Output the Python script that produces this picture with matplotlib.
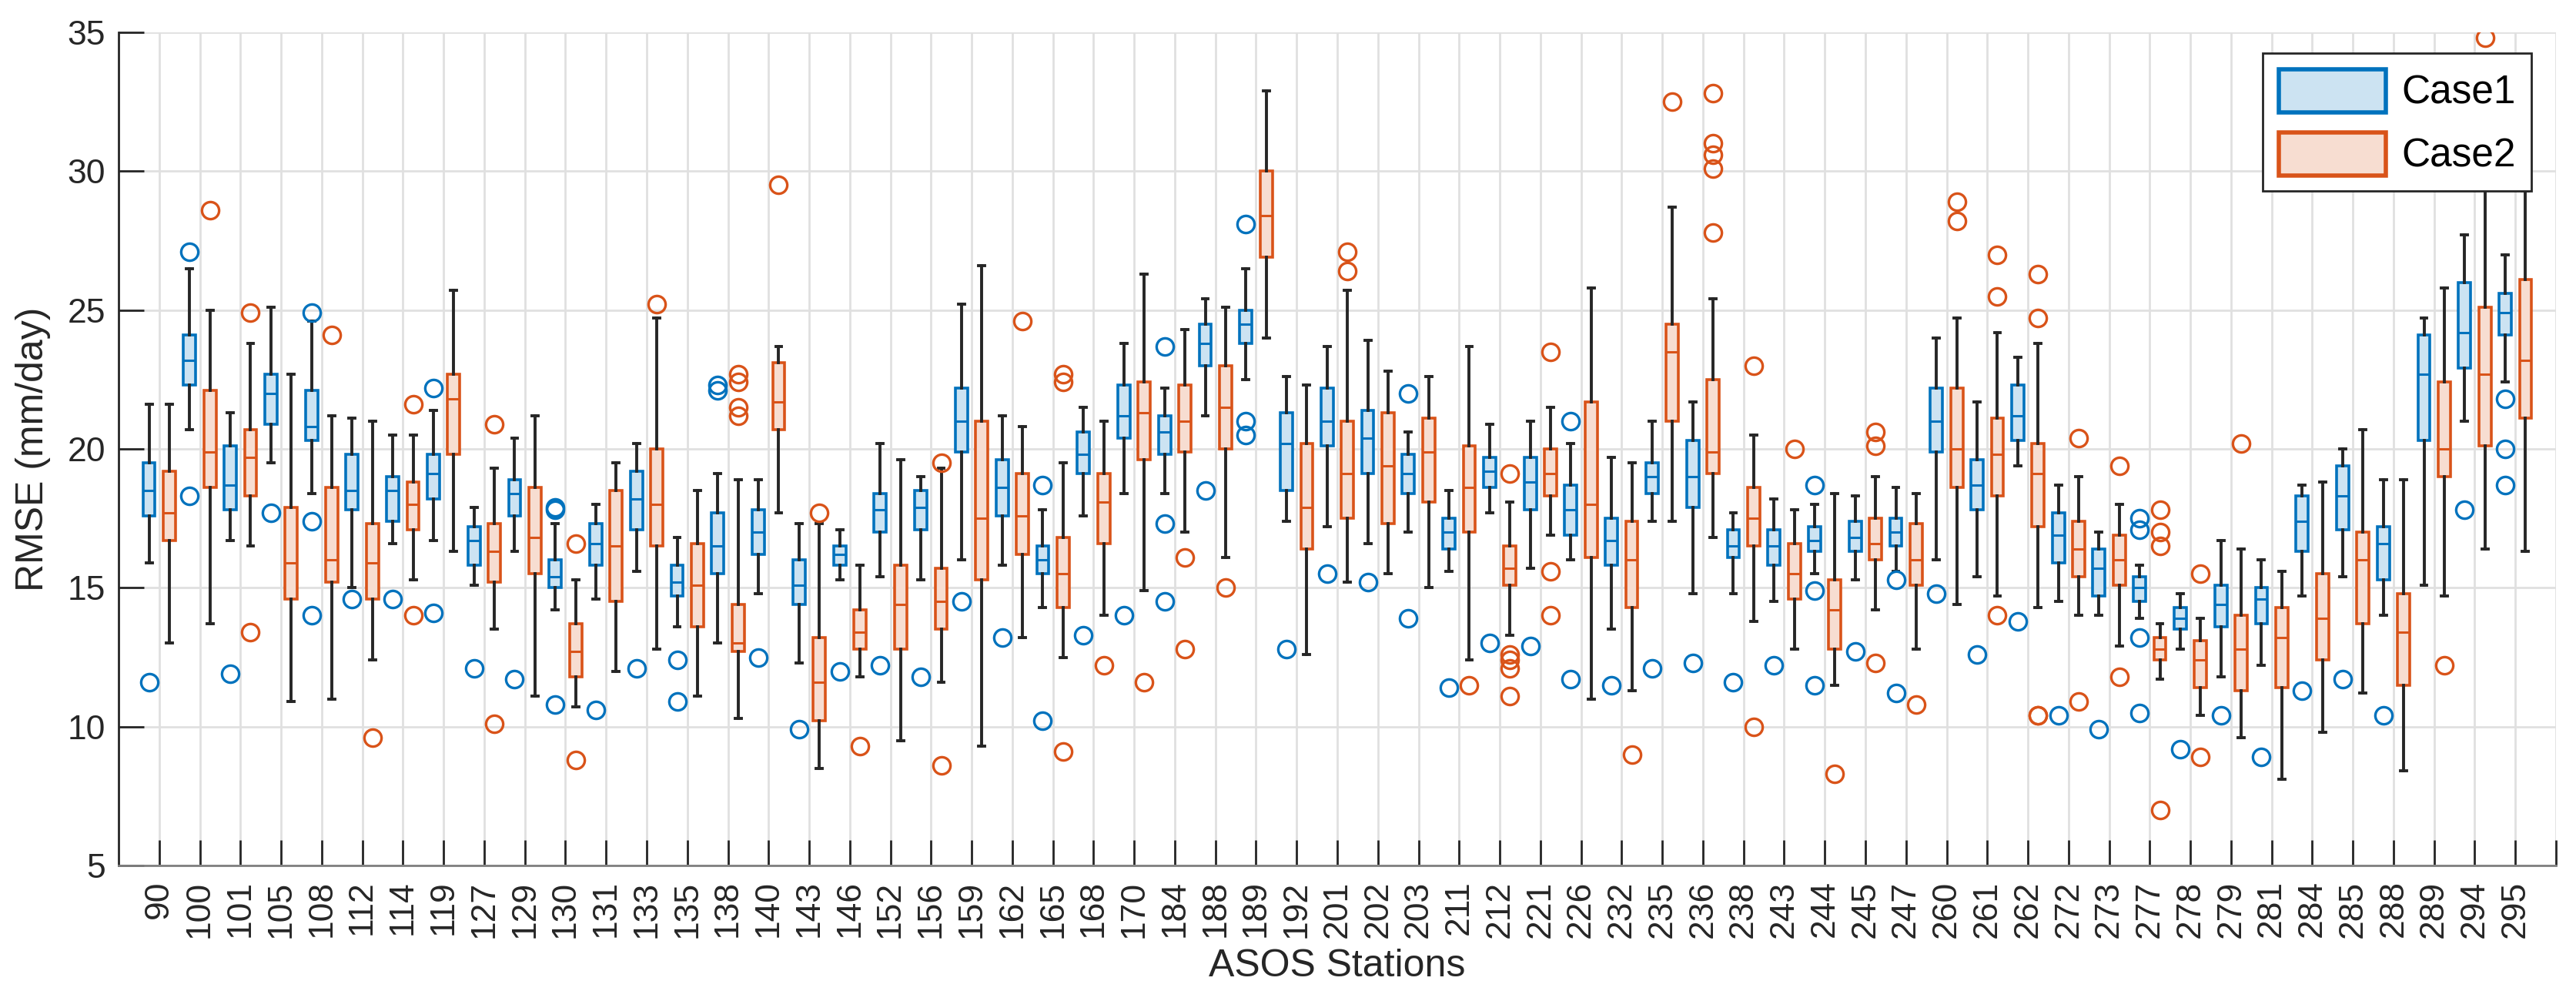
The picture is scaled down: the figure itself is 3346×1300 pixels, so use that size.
import numpy as np
import matplotlib
matplotlib.use("Agg")
import matplotlib.pyplot as plt
from matplotlib.patches import Patch

plt.rcParams['font.family'] = ['Liberation Sans', 'DejaVu Sans']

stations = ["90", "100", "101", "105", "108", "112", "114", "119", "127", "129",
            "130", "131", "133", "135", "138", "140", "143", "146", "152", "156",
            "159", "162", "165", "168", "170", "184", "188", "189", "192", "201",
            "202", "203", "211", "212", "221", "226", "232", "235", "236", "238",
            "243", "244", "245", "247", "260", "261", "262", "272", "273", "277",
            "278", "279", "281", "284", "285", "288", "289", "294", "295"]

# Case1 : whisker low, q1, median, q3, whisker high
case1_lo  = [15.9, 20.7, 16.7, 19.5, 18.4, 15.0, 16.6, 16.7, 15.1, 16.3,
             14.2, 14.6, 15.6, 13.6, 13.0, 14.8, 12.3, 15.3, 15.4, 15.3,
             16.0, 15.8, 14.3, 17.6, 18.4, 18.4, 21.2, 22.5, 17.4, 17.2,
             16.6, 17.0, 15.6, 17.7, 15.7, 16.0, 13.5, 17.4, 14.8, 14.8,
             14.5, 15.5, 15.3, 15.6, 16.0, 15.4, 19.4, 14.5, 14.0, 13.9,
             12.8, 11.8, 12.2, 14.7, 15.4, 14.0, 15.1, 21.0, 22.4]
case1_q1  = [17.6, 22.3, 17.8, 20.9, 20.3, 17.8, 17.4, 18.2, 15.8, 17.6,
             15.0, 15.8, 17.1, 14.7, 15.5, 16.2, 14.4, 15.8, 17.0, 17.1,
             19.9, 17.6, 15.5, 19.1, 20.4, 19.8, 23.0, 23.8, 18.5, 20.1,
             19.1, 18.4, 16.4, 18.6, 17.8, 16.9, 15.8, 18.4, 17.9, 16.1,
             15.8, 16.3, 16.3, 16.5, 19.9, 17.8, 20.3, 15.9, 14.7, 14.5,
             13.5, 13.6, 13.7, 16.3, 17.1, 15.3, 20.3, 22.9, 24.1]
case1_med = [18.5, 23.2, 18.7, 22.0, 20.8, 18.5, 18.5, 19.1, 16.7, 18.4,
             15.4, 16.6, 18.2, 15.2, 16.5, 17.0, 15.1, 16.2, 17.8, 17.9,
             21.0, 18.6, 16.0, 19.8, 21.2, 20.6, 23.8, 24.5, 20.2, 21.0,
             20.4, 19.1, 17.0, 19.2, 18.8, 17.8, 16.7, 19.0, 19.0, 16.5,
             16.5, 16.7, 16.8, 17.0, 21.0, 18.7, 21.2, 16.9, 15.7, 15.0,
             13.9, 14.4, 14.6, 17.4, 18.3, 16.6, 22.7, 24.2, 24.9]
case1_q3  = [19.5, 24.1, 20.1, 22.7, 22.1, 19.8, 19.0, 19.8, 17.2, 18.9,
             16.0, 17.3, 19.2, 15.8, 17.7, 17.8, 16.0, 16.5, 18.4, 18.5,
             22.2, 19.6, 16.5, 20.6, 22.3, 21.2, 24.5, 25.0, 21.3, 22.2,
             21.4, 19.8, 17.5, 19.7, 19.7, 18.7, 17.5, 19.5, 20.3, 17.1,
             17.1, 17.2, 17.4, 17.5, 22.2, 19.6, 22.3, 17.7, 16.4, 15.4,
             14.3, 15.1, 15.0, 18.3, 19.4, 17.2, 24.1, 26.0, 25.6]
case1_hi  = [21.6, 26.5, 21.3, 25.1, 24.6, 21.1, 20.5, 21.4, 17.9, 20.4,
             17.3, 18.0, 20.2, 16.8, 19.1, 18.9, 17.3, 17.1, 20.2, 19.0,
             25.2, 21.2, 17.8, 21.5, 23.8, 22.2, 25.4, 26.5, 22.6, 23.7,
             23.9, 20.6, 18.5, 20.9, 21.0, 20.2, 19.7, 21.0, 21.7, 17.7,
             18.2, 18.0, 18.3, 18.6, 24.0, 21.7, 23.3, 18.7, 17.0, 15.8,
             14.8, 16.7, 16.0, 18.7, 20.0, 18.9, 24.7, 27.7, 27.0]
case1_out = [[11.6], [27.1, 18.3], [11.9], [17.7], [24.9, 17.4, 14.0], [14.6], [14.6], [22.2, 14.1], [12.1], [11.7],
             [17.8, 17.9, 10.8], [10.6], [12.1], [12.4, 10.9], [22.3, 22.1], [12.5], [9.9], [12.0], [12.2], [11.8],
             [14.5], [13.2], [18.7, 10.2], [13.3], [14.0], [23.7, 17.3, 14.5], [18.5], [28.1, 21.0, 20.5], [12.8], [15.5],
             [15.2], [22.0, 13.9], [11.4], [13.0], [12.9], [21.0, 11.7], [11.5], [12.1], [12.3], [11.6],
             [12.2], [18.7, 14.9, 11.5], [12.7], [15.3, 11.2], [14.8], [12.6], [13.8], [10.4], [9.9], [17.5, 17.1, 13.2, 10.5],
             [9.2], [10.4], [8.9], [11.3], [11.7], [10.4], [], [17.8], [21.8, 20.0, 18.7]]

# Case2
case2_lo  = [13.0, 13.7, 16.5, 10.9, 11.0, 12.4, 15.3, 16.3, 13.5, 11.1,
             10.7, 12.0, 12.8, 11.1, 10.3, 17.7, 8.5, 11.8, 9.5, 11.6,
             9.3, 13.2, 12.5, 14.0, 14.9, 17.0, 16.1, 24.0, 12.6, 15.2,
             15.5, 15.0, 12.4, 13.3, 16.9, 11.0, 11.3, 17.4, 16.8, 13.8,
             12.8, 11.5, 14.2, 12.8, 14.4, 14.7, 14.3, 14.0, 12.9, 11.7,
             10.4, 9.6, 8.1, 9.8, 11.2, 8.4, 14.7, 16.4, 16.3]
case2_q1  = [16.7, 18.6, 18.3, 14.6, 15.2, 14.6, 17.1, 19.8, 15.2, 15.5,
             11.8, 14.5, 16.5, 13.6, 12.7, 20.7, 10.2, 12.8, 12.8, 13.5,
             15.3, 16.2, 14.3, 16.6, 19.6, 19.9, 20.0, 26.9, 16.4, 17.5,
             17.3, 18.1, 17.0, 15.1, 18.3, 16.1, 14.3, 21.0, 19.1, 16.5,
             14.6, 12.8, 16.0, 15.1, 18.6, 18.3, 17.2, 15.4, 15.1, 12.4,
             11.4, 11.3, 11.4, 12.4, 13.7, 11.5, 19.0, 20.1, 21.1]
case2_med = [17.7, 19.9, 19.7, 15.9, 16.0, 15.9, 18.0, 21.8, 16.3, 16.8,
             12.7, 16.5, 18.0, 15.1, 13.0, 21.7, 11.6, 13.4, 14.4, 14.5,
             17.5, 17.6, 15.5, 18.1, 21.3, 21.0, 21.5, 28.4, 17.9, 19.1,
             19.4, 19.9, 18.6, 15.7, 19.1, 18.0, 16.0, 23.5, 19.9, 17.5,
             15.5, 14.2, 16.6, 16.0, 20.0, 19.8, 19.1, 16.4, 16.0, 12.8,
             12.4, 12.8, 13.2, 13.9, 16.0, 13.4, 20.0, 22.7, 23.2]
case2_q3  = [19.2, 22.1, 20.7, 17.9, 18.6, 17.3, 18.8, 22.7, 17.3, 18.6,
             13.7, 18.5, 20.0, 16.6, 14.4, 23.1, 13.2, 14.2, 15.8, 15.7,
             21.0, 19.1, 16.8, 19.1, 22.4, 22.3, 23.0, 30.0, 20.2, 21.0,
             21.3, 21.1, 20.1, 16.5, 20.0, 21.7, 17.4, 24.5, 22.5, 18.6,
             16.6, 15.3, 17.5, 17.3, 22.2, 21.1, 20.2, 17.4, 16.9, 13.2,
             13.1, 14.0, 14.3, 15.5, 17.0, 14.8, 22.4, 25.1, 26.1]
case2_hi  = [21.6, 25.0, 23.8, 22.7, 21.2, 21.0, 20.5, 25.7, 19.3, 21.2,
             15.3, 19.5, 24.7, 18.5, 18.9, 23.7, 17.3, 15.8, 19.6, 19.3,
             26.6, 20.8, 19.5, 21.0, 26.3, 24.3, 25.1, 32.9, 22.3, 25.7,
             22.8, 22.6, 23.7, 18.1, 21.5, 25.8, 19.5, 28.7, 25.4, 20.5,
             17.8, 18.4, 19.0, 18.4, 24.7, 24.2, 23.8, 19.0, 18.0, 13.7,
             13.9, 16.4, 15.6, 18.8, 20.7, 18.9, 25.8, 31.0, 29.3]
case2_out = [[], [28.6], [24.9, 13.4], [], [24.1], [9.6], [21.6, 14.0], [], [20.9, 10.1], [],
             [16.6, 8.8], [], [25.2], [], [22.7, 22.4, 21.5, 21.2], [29.5], [17.7], [9.3], [], [19.5, 8.6],
             [], [24.6], [22.7, 22.4, 9.1], [12.2], [11.6], [16.1, 12.8], [15.0], [], [], [27.1, 26.4],
             [], [], [11.5], [19.1, 12.6, 12.4, 12.1, 11.1], [23.5, 15.6, 14.0], [], [9.0], [32.5], [32.8, 31.0, 30.6, 30.1, 27.8], [23.0, 10.0],
             [20.0], [8.3], [20.6, 20.1, 12.3], [10.8], [28.9, 28.2], [27.0, 25.5, 14.0], [26.3, 24.7, 10.4, 10.4], [20.4, 10.9], [19.4, 11.8], [17.8, 17.0, 16.5, 7.0],
             [15.5, 8.9], [20.2], [], [], [], [], [12.2], [34.8], []]


def make_stats(lo, q1, med, q3, hi, out):
    stats = []
    for i in range(len(lo)):
        stats.append({"whislo": lo[i], "q1": q1[i], "med": med[i], "q3": q3[i],
                      "whishi": hi[i], "fliers": out[i]})
    return stats


blue = "#0072BD"
blue_fill = "#CCE3F2"
red = "#D95319"
red_fill = "#F7DDD1"
dark = "#262626"

fig = plt.figure(figsize=(33.46, 13), dpi=100)
ax = fig.add_axes([154 / 3346, 176 / 1300, 3166 / 3346, 1082 / 1300])

x = np.arange(1, len(stations) + 1)


def draw(stats, pos, edge, fill):
    ax.bxp(stats, positions=pos, widths=0.3, patch_artist=True, showfliers=True,
           capwidths=0.15,
           boxprops=dict(facecolor=fill, edgecolor=edge, linewidth=2.6),
           medianprops=dict(color=edge, linewidth=2.2),
           whiskerprops=dict(color=dark, linewidth=2.8),
           capprops=dict(color=dark, linewidth=2.8),
           flierprops=dict(marker="o", markerfacecolor="none", markeredgecolor=edge,
                           markersize=16, markeredgewidth=2.4),
           manage_ticks=False)


# whiskers first, so the boxes sit on top of them
draw(make_stats(case1_lo, case1_q1, case1_med, case1_q3, case1_hi, case1_out), x - 0.25, blue, blue_fill)
draw(make_stats(case2_lo, case2_q1, case2_med, case2_q3, case2_hi, case2_out), x + 0.25, red, red_fill)

ax.set_xlim(0, len(stations) + 1)
ax.set_ylim(5, 35)
ax.set_xticks(list(x) + [len(stations) + 1])
ax.set_xticklabels(stations + [""], rotation=90)
ax.set_yticks(np.arange(5, 36, 5))
ax.tick_params(axis="both", direction="in", length=24, width=2, labelsize=32, colors=dark)
ax.tick_params(axis="x", pad=14)
ax.tick_params(axis="y", pad=12)
ax.grid(True, color="#E0E0E0", linewidth=2)
ax.set_axisbelow(True)
for s in ["top", "right"]:
    ax.spines[s].set_visible(False)
ax.spines["left"].set_color(dark)
ax.spines["bottom"].set_color("#7F7F7F")
for s in ["left", "bottom"]:
    ax.spines[s].set_linewidth(2)

ax.set_xlabel("ASOS Stations", fontsize=36, color=dark, labelpad=10)
ax.set_ylabel("RMSE (mm/day)", fontsize=36, color=dark, labelpad=16)

handles = [Patch(facecolor=blue_fill, edgecolor=blue, linewidth=4, label="Case1"),
           Patch(facecolor=red_fill, edgecolor=red, linewidth=4, label="Case2")]
leg = ax.legend(handles=handles, loc="upper right", bbox_to_anchor=(0.990, 0.975),
                borderaxespad=0, fontsize=37, handlelength=2.7, handleheight=1.3,
                handletextpad=0.4, fancybox=False, framealpha=1, edgecolor=dark)
leg.get_frame().set_linewidth(2)

fig.savefig("out.png", dpi=100)
